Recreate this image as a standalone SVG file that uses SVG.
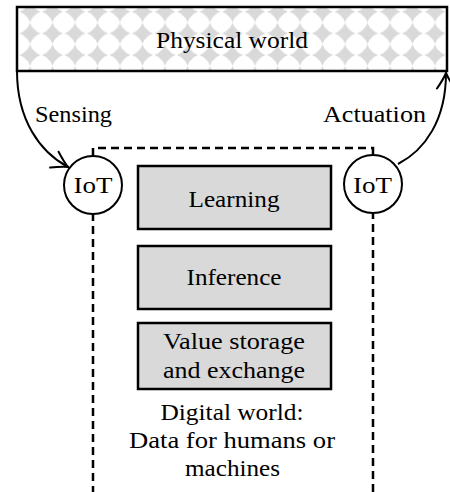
<svg xmlns="http://www.w3.org/2000/svg" width="450" height="492" viewBox="0 0 450 492">
  <defs>
    <style>
      .t { font-family: "Liberation Serif", "Times New Roman", serif; font-size: 24px; fill: #000; text-anchor: middle; }
      .box { fill: #d9d9d9; stroke: #000; stroke-width: 2.5; }
      .circ { fill: #fff; stroke: #000; stroke-width: 2; }
      .conn { fill: none; stroke: #000; stroke-width: 2; }
      .dash { fill: none; stroke: #000; stroke-width: 2.5; stroke-dasharray: 8 5; stroke-dashoffset: 2; }
    </style>
    <pattern id="diam" patternUnits="userSpaceOnUse" x="18.75" y="0.85" width="22.5" height="21.7">
      <polygon transform="translate(11.25 10.85)" fill="#d9d9d9" points="0,-10.5 2,-6.5 6.5,-2 10.5,0 6.5,2 2,6.5 0,10.5 -2,6.5 -6.5,2 -10.5,0 -6.5,-2 -2,-6.5"/>
    </pattern>
    <marker id="arr" markerUnits="userSpaceOnUse" orient="auto" markerWidth="30" markerHeight="30" viewBox="-20 -15 30 30" refX="0" refY="0" overflow="visible">
      <path d="M-15.5,-9 Q-6,-2.5 0,0 Q-6,2.5 -15.5,9" fill="none" stroke="#000" stroke-width="2" stroke-linecap="round"/>
    </marker>
  </defs>

  <g id="digital-world">
    <path class="dash" d="M93,492 L93,148 L373,148 L373,492"/>
  </g>

  <g id="connectors">
    <path class="conn" d="M17,71 C17,120 40,152 68,167" marker-end="url(#arr)"/>
    <path class="conn" d="M398,164 C425,150 446,120 446,73" marker-end="url(#arr)"/>
  </g>

  <g id="physical-world">
    <rect x="17" y="7" width="430" height="64" fill="#fff"/>
    <rect x="17" y="7" width="430" height="64" fill="url(#diam)" stroke="#000" stroke-width="2.5"/>
    <text class="t" x="232" y="48" textLength="152" lengthAdjust="spacingAndGlyphs">Physical world</text>
  </g>

  <g id="label-sensing">
    <text class="t" x="73.5" y="122" textLength="77" lengthAdjust="spacingAndGlyphs">Sensing</text>
  </g>
  <g id="label-actuation">
    <text class="t" x="374.5" y="122" textLength="103" lengthAdjust="spacingAndGlyphs">Actuation</text>
  </g>

  <g id="iot-left">
    <circle class="circ" cx="93" cy="185" r="29"/>
    <text class="t" x="93" y="193" textLength="39" lengthAdjust="spacingAndGlyphs">IoT</text>
  </g>
  <g id="iot-right">
    <circle class="circ" cx="373" cy="184" r="29"/>
    <text class="t" x="372.5" y="193" textLength="39" lengthAdjust="spacingAndGlyphs">IoT</text>
  </g>

  <g id="learning">
    <rect class="box" x="138" y="166" width="193" height="63"/>
    <text class="t" x="234" y="207" textLength="91" lengthAdjust="spacingAndGlyphs">Learning</text>
  </g>
  <g id="inference">
    <rect class="box" x="138" y="246" width="193" height="63"/>
    <text class="t" x="234" y="285" textLength="95" lengthAdjust="spacingAndGlyphs">Inference</text>
  </g>
  <g id="value-storage">
    <rect class="box" x="138" y="323" width="193" height="66"/>
    <text class="t" x="234" y="349" textLength="142" lengthAdjust="spacingAndGlyphs">Value storage</text>
    <text class="t" x="234" y="378" textLength="142" lengthAdjust="spacingAndGlyphs">and exchange</text>
  </g>

  <g id="digital-world-label">
    <text class="t" x="232" y="420" textLength="143" lengthAdjust="spacingAndGlyphs">Digital world:</text>
    <text class="t" x="232" y="448" textLength="206" lengthAdjust="spacingAndGlyphs">Data for humans or</text>
    <text class="t" x="232.5" y="476" textLength="95" lengthAdjust="spacingAndGlyphs">machines</text>
  </g>
</svg>
